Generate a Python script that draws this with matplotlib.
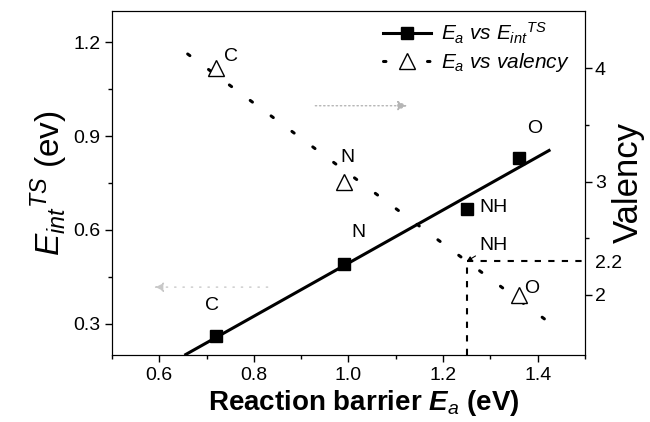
import matplotlib
matplotlib.use('Agg')
import matplotlib.pyplot as plt, numpy as np

plt.rcParams['font.family'] = ['Liberation Sans', 'DejaVu Sans']
plt.rcParams['mathtext.fontset'] = 'custom'
plt.rcParams['mathtext.rm'] = 'Liberation Sans'
plt.rcParams['mathtext.it'] = 'Liberation Sans:italic'
plt.rcParams['mathtext.bf'] = 'Liberation Sans:bold'
plt.rcParams['mathtext.bfit'] = 'Liberation Sans:italic:bold'

# data
elements = ['C', 'N', 'NH', 'O']
ea = [0.72, 0.99, 1.25, 1.36]          # reaction barrier (eV)
eint = [0.26, 0.49, 0.667, 0.83]       # E_int^TS (eV)
val_elements = ['C', 'N', 'O']
val_ea = [0.72, 0.99, 1.36]
valency = [4, 3, 2]
fit_range_eint = [0.656, 1.424]
fit_range_val = [0.66, 1.42]
nh_ea = 1.25

# linear fits
p1 = np.polyfit(ea, eint, 1)
p2 = np.polyfit(val_ea, valency, 1)
nh_val = np.polyval(p2, nh_ea)

fig = plt.figure(figsize=(6.5, 4.22), dpi=100)
ax = fig.add_axes([0.1723, 0.1588, 0.7277, 0.8152])
ax2 = ax.twinx()

xs = np.array(fit_range_eint)
ax.plot(xs, np.polyval(p1, xs), '-', color='k', lw=2.2)
ax.plot(ea, eint, 's', color='k', ms=8.5, zorder=5)
h1, = ax.plot([], [], '-s', color='k', lw=2.2, ms=8.5)

xv = np.array(fit_range_val)
ax2.plot(xv, np.polyval(p2, xv), color='k', lw=2.2, dashes=(0.9, 7.6), dash_capstyle='round')
ax2.plot(val_ea, valency, '^', mfc='white', mec='k', mew=1.0, ms=11, zorder=5)
h2, = ax2.plot([], [], color='k', lw=2.2, dashes=(0.8, 13.6), dash_capstyle='round',
               marker='^', mfc='white', mec='k', mew=1.0, ms=11)

ax.set_xlim(0.5, 1.5)
ax.set_ylim(0.2, 1.3)
ax2.set_ylim(1.47, 4.506)

# dashed guide lines at NH
ax2.plot([nh_ea, nh_ea], [1.47, nh_val], color='k', lw=1.5, dashes=(3, 3.5))
ax2.plot([nh_ea, 1.5], [nh_val, nh_val], color='k', lw=1.5, dashes=(3, 3.5))

# point labels
sq_lab = {'C': (0.711, 0.358), 'N': (1.022, 0.592), 'NH': (1.277, 0.672), 'O': (1.393, 0.924)}
for k, (x, y) in sq_lab.items():
    ax.text(x, y, k, fontsize=14, ha='left' if k == 'NH' else 'center', va='center')
tri_lab = {'C': (0.751, 4.10), 'N': (0.997, 3.21), 'O': (1.387, 2.06)}
for k, (x, y) in tri_lab.items():
    ax2.text(x, y, k, fontsize=14, ha='center', va='center')
ax2.annotate('NH', xy=(nh_ea, nh_val), xytext=(1.277, 2.44), fontsize=14, ha='left', va='center',
             arrowprops=dict(arrowstyle='-|>', color='k', lw=0.8, mutation_scale=7, shrinkA=1, shrinkB=0))

# faint grey arrows pointing to each axis
ax.annotate('', xy=(1.13, 0.997), xytext=(0.924, 0.997),
            arrowprops=dict(arrowstyle='-|>', color='#b5b5b5', lw=1.0, ls=(0, (1, 2)), mutation_scale=14))
ax.annotate('', xy=(0.583, 0.417), xytext=(0.835, 0.417),
            arrowprops=dict(arrowstyle='-|>', color='#c8c8c8', lw=1.0, ls=(0, (1, 5)), mutation_scale=14))

# ticks
ax.set_xticks([0.6, 0.8, 1.0, 1.2, 1.4])
ax.set_xticks(np.arange(0.5, 1.51, 0.1), minor=True)
ax.set_yticks([0.3, 0.6, 0.9, 1.2])
ax.set_yticks([0.45, 0.75, 1.05], minor=True)
ax.tick_params(which='both', direction='out', labelsize=14, width=1)
ax.tick_params(which='major', length=5)
ax.tick_params(which='minor', length=3)
ax.tick_params(axis='x', top=False)
ax2.set_yticks([2, nh_val, 3, 4], ['2', '2.2', '3', '4'])
ax2.set_yticks([2.5, 3.5], minor=True)
ax2.tick_params(which='both', direction='out', labelsize=14, width=1, pad=2)
ax2.tick_params(which='major', length=5)
ax2.tick_params(which='minor', length=3)
ax2.yaxis.get_major_ticks()[1].tick2line.set_visible(False)

ax.set_xlabel(r'Reaction barrier $\mathbfit{E}_{a}$ (eV)', fontsize=20, fontweight='bold')
ax.xaxis.set_label_coords(0.532, -0.095)
ax.set_ylabel(r'$E_{int}{}^{TS}$ (ev)', fontsize=24, labelpad=2)
ax2.set_ylabel('Valency', fontsize=25)
ax2.yaxis.set_label_coords(1.056, 0.5)

ax2.legend([h1, h2], [r'$E_a$ vs $E_{int}{}^{TS}$', r'$E_a$ vs valency'],
           loc='upper left', bbox_to_anchor=(0.537, 1.02), frameon=False,
           prop={'style': 'italic', 'size': 15}, handlelength=2.3, handletextpad=0.5,
           labelspacing=0.25, borderpad=0.3)

fig.savefig('out.png', dpi=100)
